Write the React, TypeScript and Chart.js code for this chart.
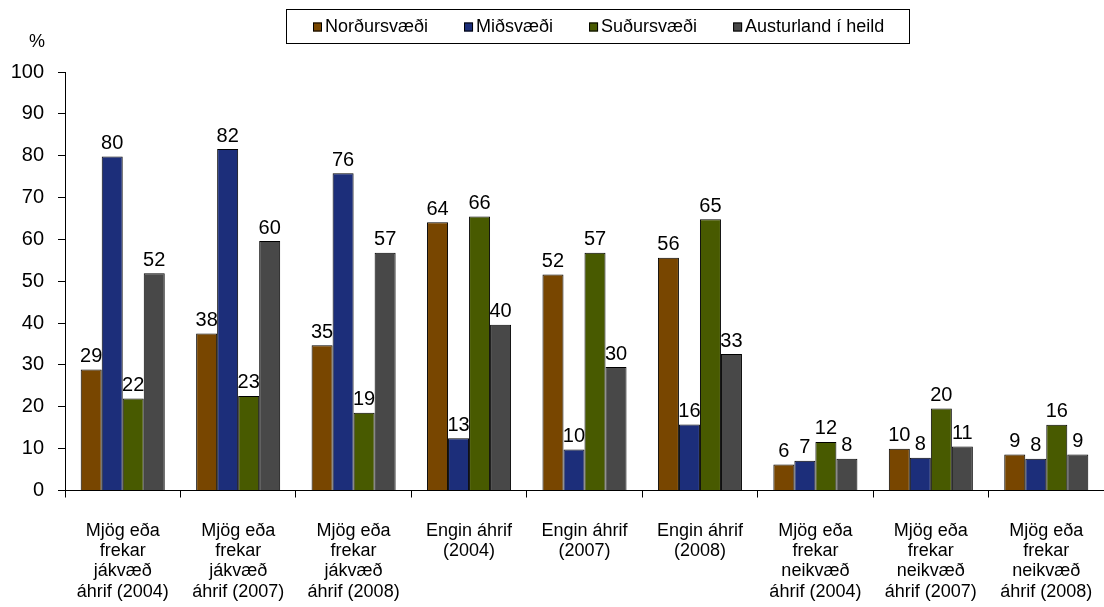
import React, { useEffect, useRef } from "react";
import { Chart, registerables } from "chart.js";

Chart.register(...registerables);

const categories: string[][] = [
  ["Mjög eða", "frekar", "jákvæð", "áhrif (2004)"],
  ["Mjög eða", "frekar", "jákvæð", "áhrif (2007)"],
  ["Mjög eða", "frekar", "jákvæð", "áhrif (2008)"],
  ["Engin áhrif", "(2004)"],
  ["Engin áhrif", "(2007)"],
  ["Engin áhrif", "(2008)"],
  ["Mjög eða", "frekar", "neikvæð", "áhrif (2004)"],
  ["Mjög eða", "frekar", "neikvæð", "áhrif (2007)"],
  ["Mjög eða", "frekar", "neikvæð", "áhrif (2008)"],
];

const seriesNames = ["Norðursvæði", "Miðsvæði", "Suðursvæði", "Austurland í heild"];

const nordur = [28.9, 37.5, 34.7, 64.1, 51.6, 55.6, 6.2, 10.0, 8.6];
const midur = [79.8, 81.6, 75.8, 12.5, 9.8, 15.8, 7.1, 7.8, 7.6];
const sudur = [22.0, 22.6, 18.6, 65.5, 56.8, 64.8, 11.6, 19.6, 15.7];
const austur = [51.9, 59.6, 56.8, 39.6, 29.5, 32.6, 7.6, 10.5, 8.6];

const yTicks = [0, 10, 20, 30, 40, 50, 60, 70, 80, 90, 100];

const colors = ["#784600", "#1C2E7A", "#485A00", "#484848"];

const FONT = "'Liberation Sans', Arial, sans-serif";

const dataLabelPlugin = {
  id: "dataLabels",
  afterDatasetsDraw(chart: any) {
    const ctx = chart.ctx;
    ctx.save();
    ctx.font = `20px ${FONT}`;
    ctx.fillStyle = "#000";
    ctx.textAlign = "center";
    ctx.textBaseline = "bottom";
    chart.data.datasets.forEach((ds: any, i: number) => {
      const meta = chart.getDatasetMeta(i);
      meta.data.forEach((bar: any, j: number) => {
        ctx.fillText(String(Math.round(ds.data[j])), bar.x, bar.y - 3);
      });
    });
    ctx.restore();
  },
};

const legendPlugin = {
  id: "boxLegend",
  afterDraw(chart: any) {
    const ctx = chart.ctx;
    ctx.save();
    const left = 286, top = 9, right = 909, bottom = 43;
    ctx.strokeStyle = "#000";
    ctx.lineWidth = 1;
    ctx.strokeRect(left + 0.5, top + 0.5, right - left, bottom - top);
    ctx.font = `18px ${FONT}`;
    ctx.textBaseline = "middle";
    ctx.textAlign = "left";
    const cy = (top + bottom) / 2 + 1;
    const box = 9;
    const gap = 36;
    let x = 313;
    chart.data.datasets.forEach((ds: any) => {
      ctx.fillStyle = ds.backgroundColor;
      ctx.fillRect(x, cy - box / 2, box, box);
      ctx.strokeStyle = "#000";
      ctx.strokeRect(x + 0.5, cy - box / 2 + 0.5, box - 1, box - 1);
      ctx.fillStyle = "#000";
      ctx.fillText(ds.label, x + box + 3, cy);
      x += box + 3 + ctx.measureText(ds.label).width + gap;
    });
    ctx.restore();
  },
};

const percentPlugin = {
  id: "percentLabel",
  afterDraw(chart: any) {
    const ctx = chart.ctx;
    ctx.save();
    ctx.font = `18px ${FONT}`;
    ctx.fillStyle = "#000";
    ctx.textAlign = "center";
    ctx.textBaseline = "middle";
    ctx.fillText("%", 37, 42);
    ctx.restore();
  },
};

export default function App() {
  const ref = useRef<HTMLCanvasElement | null>(null);

  useEffect(() => {
    if (!ref.current) return;
    const values = [nordur, midur, sudur, austur];
    const chart = new Chart(ref.current, {
      type: "bar",
      data: {
        labels: categories,
        datasets: values.map((v, i) => ({
          label: seriesNames[i],
          data: v,
          backgroundColor: colors[i],
          borderColor: "#000",
          borderWidth: 1,
          categoryPercentage: 0.728,
          barPercentage: 1,
        })),
      },
      options: {
        animation: false,
        responsive: false,
        maintainAspectRatio: false,
        layout: { padding: { top: 72, left: 0, right: 0, bottom: 0 } },
        plugins: {
          legend: { display: false },
          tooltip: { enabled: false },
          title: { display: false },
        },
        scales: {
          x: {
            offset: true,
            grid: {
              offset: true,
              drawOnChartArea: false,
              drawTicks: true,
              tickLength: 7,
              color: "#000",
            },
            border: { color: "#000", width: 1 },
            ticks: {
              color: "#000",
              maxRotation: 0,
              autoSkip: false,
              padding: 23,
              font: { family: FONT, size: 18, lineHeight: 20.3 / 18 },
            },
            afterFit(scale: any) {
              scale.height = 116.5;
              scale.paddingLeft = 0;
              scale.paddingRight = 0;
            },
          },
          y: {
            min: 0,
            max: 100,
            afterBuildTicks(scale: any) {
              scale.ticks = yTicks.map((v) => ({ value: v }));
            },
            grid: {
              drawOnChartArea: false,
              drawTicks: true,
              tickLength: 7,
              color: "#000",
            },
            border: { color: "#000", width: 1 },
            ticks: {
              color: "#000",
              padding: 14,
              font: { family: FONT, size: 20 },
            },
            afterFit(scale: any) {
              scale.width = 65;
            },
          },
        },
      },
      plugins: [dataLabelPlugin, legendPlugin, percentPlugin],
    });
    return () => chart.destroy();
  }, []);

  return (
    <div style={{ position: "absolute", left: 0, top: 0, width: 1104, height: 607, background: "#fff" }}>
      <canvas ref={ref} width={1104} height={607} style={{ width: 1104, height: 607 }} />
    </div>
  );
}
